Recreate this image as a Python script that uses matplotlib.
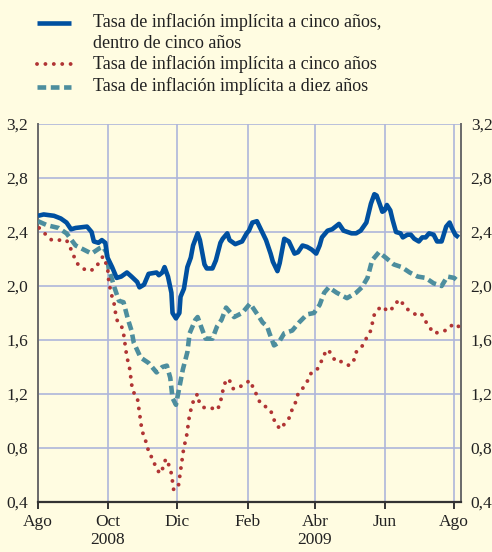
import numpy as np
import matplotlib
matplotlib.use("Agg")
import matplotlib.pyplot as plt
from matplotlib.lines import Line2D

# ---- data (days since 2008-08-01, values in %) ----
blue_days = [0, 5, 14, 20, 25, 29, 33, 43, 47, 49, 53, 56, 59, 61, 65, 69, 73, 78, 82, 87,
             89, 93, 97, 104, 106, 109, 111, 114, 117, 118, 121, 124, 125, 128, 131, 134, 136,
             140, 142, 146, 148, 153, 156, 160, 162, 166, 168, 173, 179, 183, 185, 188, 192,
             196, 200, 204, 206, 210, 212, 216, 220, 225, 228, 232, 236, 240, 244, 247, 249,
             254, 258, 264, 268, 275, 279, 283, 288, 290, 292, 295, 297, 300, 302, 304, 306,
             309, 311, 314, 318, 320, 324, 327, 330, 334, 337, 340, 343, 347, 350, 354, 358,
             361, 363, 366, 369]
blue_vals = [2.52, 2.53, 2.52, 2.50, 2.47, 2.42, 2.43, 2.44, 2.40, 2.33, 2.32, 2.34, 2.32, 2.21,
             2.14, 2.06, 2.07, 2.10, 2.07, 2.03, 1.99, 2.01, 2.09, 2.10, 2.08, 2.10, 2.14, 2.07,
             1.95, 1.80, 1.76, 1.80, 1.92, 1.98, 2.14, 2.21, 2.30, 2.39, 2.34, 2.16, 2.13, 2.13,
             2.19, 2.32, 2.35, 2.39, 2.34, 2.31, 2.33, 2.39, 2.41, 2.47, 2.48, 2.41, 2.34, 2.24,
             2.18, 2.11, 2.17, 2.35, 2.33, 2.24, 2.25, 2.30, 2.29, 2.27, 2.24, 2.30, 2.36, 2.41,
             2.42, 2.46, 2.41, 2.39, 2.39, 2.41, 2.47, 2.54, 2.61, 2.68, 2.67, 2.60, 2.55, 2.56,
             2.60, 2.56, 2.49, 2.40, 2.39, 2.36, 2.38, 2.38, 2.35, 2.33, 2.36, 2.36, 2.39, 2.38,
             2.33, 2.33, 2.44, 2.47, 2.43, 2.38, 2.36]

red_days = [1, 7, 12, 19, 25, 28, 31, 34, 39, 45, 50, 54, 57, 61, 62, 64, 67, 68, 69, 73, 75,
            76, 77, 78, 80, 81, 82, 83, 87, 88, 89, 90, 91, 93, 96, 97, 101, 103, 107, 110, 112,
            115, 117, 118, 119, 121, 123, 124, 125, 126, 127, 128, 130, 131, 132, 133, 135, 137,
            140, 141, 145, 151, 157, 160, 161, 163, 165, 168, 171, 175, 180, 186, 189, 192, 195,
            199, 204, 206, 209, 213, 217, 221, 223, 226, 228, 232, 236, 239, 244, 248, 250, 254,
            257, 261, 267, 273, 277, 279, 284, 287, 291, 293, 294, 297, 302, 307, 313, 316, 320,
            325, 331, 336, 339, 343, 347, 354, 360, 364, 369]
red_vals = [2.43, 2.38, 2.34, 2.34, 2.34, 2.29, 2.23, 2.17, 2.13, 2.11, 2.13, 2.18, 2.22, 2.14,
            2.04, 1.95, 1.86, 1.80, 1.75, 1.71, 1.65, 1.59, 1.53, 1.47, 1.41, 1.35, 1.28, 1.22,
            1.18, 1.12, 1.06, 1.00, 0.94, 0.88, 0.82, 0.76, 0.72, 0.66, 0.61, 0.66, 0.72, 0.67,
            0.61, 0.55, 0.49, 0.50, 0.51, 0.57, 0.63, 0.69, 0.75, 0.81, 0.87, 0.93, 0.99, 1.05,
            1.11, 1.17, 1.20, 1.15, 1.10, 1.10, 1.08, 1.13, 1.19, 1.25, 1.31, 1.30, 1.24, 1.24,
            1.27, 1.30, 1.24, 1.19, 1.13, 1.11, 1.08, 1.03, 0.97, 0.94, 0.99, 1.03, 1.09, 1.14,
            1.20, 1.24, 1.29, 1.35, 1.37, 1.43, 1.48, 1.53, 1.50, 1.44, 1.44, 1.41, 1.45, 1.51,
            1.55, 1.60, 1.65, 1.71, 1.77, 1.82, 1.85, 1.81, 1.85, 1.90, 1.87, 1.82, 1.79, 1.80,
            1.75, 1.70, 1.65, 1.66, 1.68, 1.72, 1.70]

teal_days = [0, 8, 18, 25, 33, 40, 47, 54, 57, 60, 62, 67, 71, 75, 79, 82, 84, 90, 97, 104,
             109, 113, 116, 118, 121, 124, 127, 131, 133, 138, 140, 143, 147, 153, 157, 161,
             165, 172, 179, 186, 194, 197, 201, 203, 207, 211, 216, 223, 229, 236, 242, 247,
             251, 255, 262, 271, 279, 284, 289, 293, 299, 305, 312, 319, 326, 333, 340, 347,
             354, 359, 365, 369]
teal_vals = [2.48, 2.45, 2.43, 2.39, 2.30, 2.27, 2.24, 2.28, 2.29, 2.25, 2.13, 1.99, 1.89, 1.88,
             1.75, 1.67, 1.58, 1.47, 1.43, 1.36, 1.40, 1.41, 1.32, 1.17, 1.12, 1.25, 1.38, 1.51,
             1.65, 1.75, 1.77, 1.70, 1.61, 1.61, 1.70, 1.75, 1.84, 1.77, 1.80, 1.87, 1.77, 1.73,
             1.70, 1.65, 1.56, 1.58, 1.65, 1.67, 1.73, 1.79, 1.80, 1.86, 1.95, 1.99, 1.95, 1.91,
             1.95, 1.99, 2.06, 2.19, 2.25, 2.21, 2.16, 2.14, 2.10, 2.07, 2.06, 2.02, 2.00, 2.07,
             2.06, 2.03]

tick_dates = ['2008-08-01', '2008-10-01', '2008-12-01', '2009-02-01', '2009-04-01',
              '2009-06-01', '2009-08-01']
tick_labels = ['Ago', 'Oct\n2008', 'Dic', 'Feb', 'Abr\n2009', 'Jun', 'Ago']
y_ticks = [0.4, 0.8, 1.2, 1.6, 2.0, 2.4, 2.8, 3.2]
y_labels = ['0,4', '0,8', '1,2', '1,6', '2,0', '2,4', '2,8', '3,2']

legend_lines = ['Tasa de inflación implícita a cinco años,',
                'dentro de cinco años',
                'Tasa de inflación implícita a cinco años',
                'Tasa de inflación implícita a diez años']

# ---- style ----
BG = '#FFFCE1'
GRID = '#AEB6DA'
BLUE = '#0050A0'
RED = '#B03434'
TEAL = '#4D8E9E'
TXT = '#222222'
SPINE = '#6A6A6A'

RED_LS = (0, (0.01, 2.15))
TEAL_LS = (0, (1.9, 1.0))

plt.rcParams['font.family'] = ['Liberation Serif', 'DejaVu Serif']

base = np.datetime64('2008-08-01')
def to_dates(days):
    return base + np.array(days, dtype='timedelta64[D]')

fig = plt.figure(figsize=(4.92, 5.52), dpi=100, facecolor=BG)
ax = fig.add_axes([38/492, 1 - 502/552, (461-38)/492, (502-124)/552])
ax.set_facecolor(BG)

bx = to_dates(blue_days)
rx = to_dates(red_days)
tx = to_dates(teal_days)

ax.plot(tx, teal_vals, color=TEAL, lw=3.3, linestyle=TEAL_LS,
        dash_capstyle='butt', solid_joinstyle='round', zorder=3)
ax.plot(rx, red_vals, color=RED, lw=2.8, linestyle=RED_LS,
        dash_capstyle='round', zorder=4)
ax.plot(bx, blue_vals, color=BLUE, lw=3.3, solid_joinstyle='round',
        solid_capstyle='butt', zorder=5)

ax.set_xlim(base, base + np.timedelta64(371, 'D'))
ax.set_ylim(0.4, 3.2)

tks = np.array(tick_dates, dtype='datetime64[D]')
ax.set_xticks(tks)
ax.set_xticklabels(tick_labels, fontsize=12.5, color=TXT, linespacing=1.1)
ax.set_yticks(y_ticks)
ax.set_yticklabels(y_labels, fontsize=12.5, color=TXT)

ax.grid(True, color=GRID, lw=1.2, zorder=0)
ax.set_axisbelow(True)

ax.tick_params(axis='x', direction='out', length=5, width=1.4, color='#333333', pad=4)
ax.tick_params(axis='y', length=0, pad=7, labelleft=True, labelright=True)

ax.spines['top'].set_visible(False)
ax.spines['left'].set_color(SPINE)
ax.spines['left'].set_linewidth(1.4)
ax.spines['right'].set_color(SPINE)
ax.spines['right'].set_linewidth(1.4)
ax.spines['bottom'].set_color('#333333')
ax.spines['bottom'].set_linewidth(1.6)

# ---- legend (manual) ----
def fx(px):
    return px / 492
def fy(py):
    return 1 - py / 552

handles = [
    dict(color=BLUE, lw=3.3, ls='-', y=23),
    dict(color=RED, lw=2.8, ls=RED_LS, y=64, cap='round'),
    dict(color=TEAL, lw=3.3, ls=TEAL_LS, y=87),
]
for h in handles:
    ln = Line2D([fx(37), fx(71)], [fy(h['y']), fy(h['y'])], transform=fig.transFigure,
                color=h['color'], lw=h['lw'], linestyle=h['ls'],
                dash_capstyle=h.get('cap', 'butt'), solid_capstyle='butt')
    fig.add_artist(ln)

for txt, base_y in zip(legend_lines, [27, 48, 69, 91]):
    fig.text(fx(93), fy(base_y), txt, fontsize=13, color=TXT, va='baseline', ha='left')

fig.savefig('out.png', dpi=100, facecolor=BG)
